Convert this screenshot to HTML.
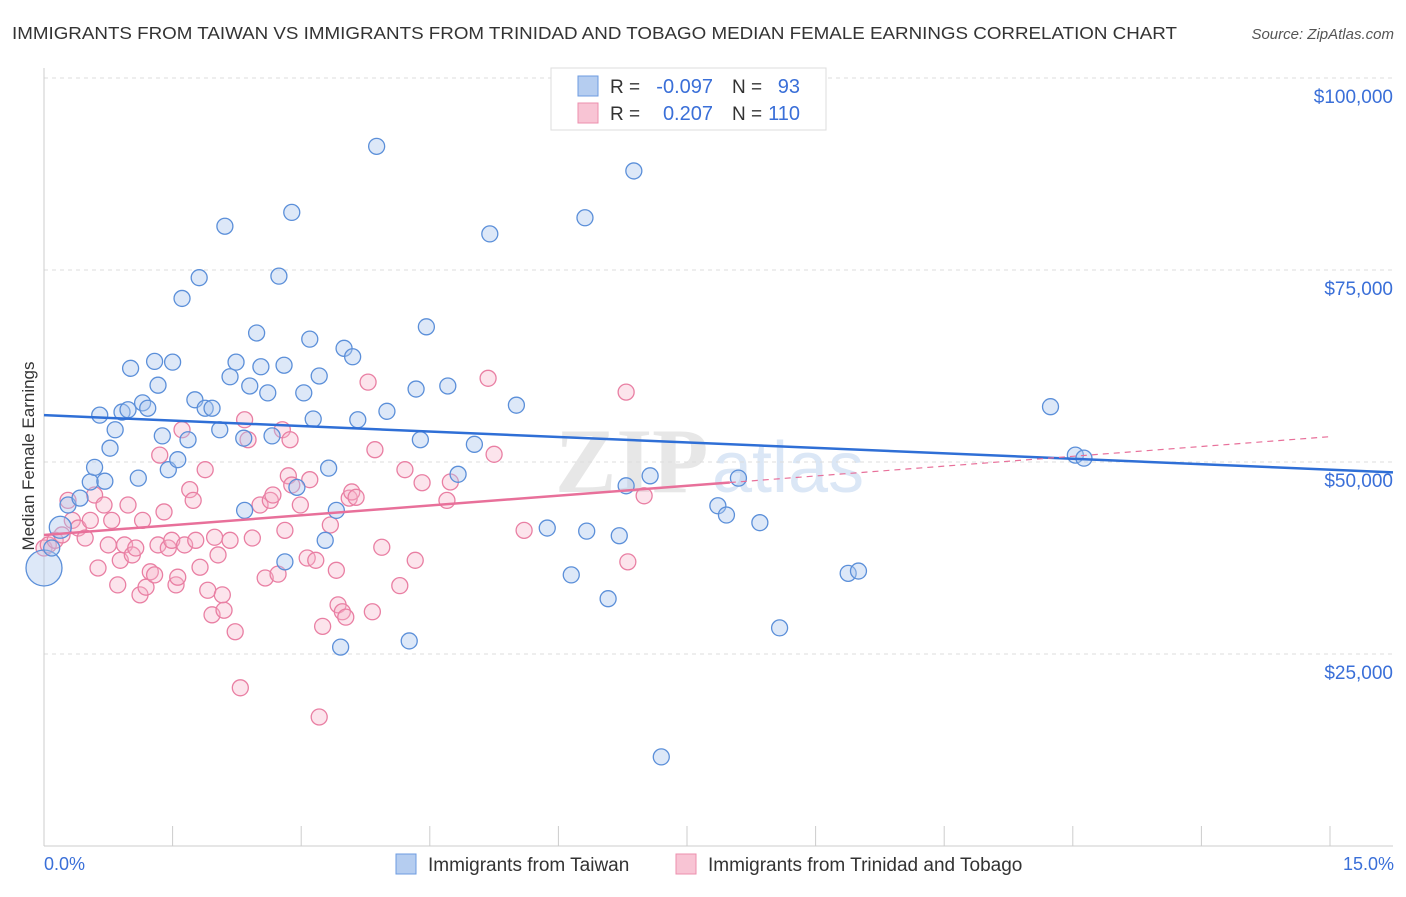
<!DOCTYPE html>
<html><head><meta charset="utf-8"><style>
body{margin:0;background:#fff;font-family:"Liberation Sans",sans-serif;}
</style></head><body>
<svg width="1406" height="892" xmlns="http://www.w3.org/2000/svg" font-family="Liberation Sans, sans-serif">
<text x="12" y="39" font-size="17.5" fill="#333" textLength="1165" lengthAdjust="spacingAndGlyphs">IMMIGRANTS FROM TAIWAN VS IMMIGRANTS FROM TRINIDAD AND TOBAGO MEDIAN FEMALE EARNINGS CORRELATION CHART</text>
<text x="1394" y="39" font-size="15" fill="#555" font-style="italic" text-anchor="end">Source: ZipAtlas.com</text>
<g opacity="0.35">
<text x="555" y="492" font-size="92" font-family="Liberation Serif, serif" fill="#bbb" font-weight="bold">ZIP</text>
<text x="712" y="492" font-size="72" fill="#9bbbe6">atlas</text>
</g>
<g id="grid"></g><g id="axes"></g><g id="pts"></g><g id="trend"></g>
<text transform="translate(34,456) rotate(-90)" font-size="17" fill="#333" text-anchor="middle">Median Female Earnings</text>
<text x="44" y="870" font-size="18" fill="#3a6fd8">0.0%</text>
<text x="1394" y="870" font-size="18" fill="#3a6fd8" text-anchor="end">15.0%</text>
<g>
<rect x="551" y="68" width="275" height="62" fill="#fff" stroke="#ddd"/>
<rect x="578" y="76" width="20" height="20" fill="#b5cdf0" stroke="#6d9be0"/>
<rect x="578" y="103" width="20" height="20" fill="#f8c4d4" stroke="#ec8fae"/>
<text x="610" y="93" font-size="19" fill="#333">R =</text>
<text x="713" y="93" font-size="20" fill="#3a6fd8" text-anchor="end">-0.097</text>
<text x="732" y="93" font-size="19" fill="#333">N =</text>
<text x="800" y="93" font-size="20" fill="#3a6fd8" text-anchor="end">93</text>
<text x="610" y="120" font-size="19" fill="#333">R =</text>
<text x="713" y="120" font-size="20" fill="#3a6fd8" text-anchor="end">0.207</text>
<text x="732" y="120" font-size="19" fill="#333">N =</text>
<text x="800" y="120" font-size="20" fill="#3a6fd8" text-anchor="end">110</text>
</g>
<g>
<rect x="396" y="854" width="20" height="20" fill="#b5cdf0" stroke="#6d9be0"/>
<text x="428" y="871" font-size="19" fill="#333">Immigrants from Taiwan</text>
<rect x="676" y="854" width="20" height="20" fill="#f8c4d4" stroke="#ec8fae"/>
<text x="708" y="871" font-size="19" fill="#333">Immigrants from Trinidad and Tobago</text>
</g>
</svg>
<script>
const yTicks=[25000,50000,75000,100000];
const yTickLabels=["$25,000","$50,000","$75,000","$100,000"];
const xTicks=[0,1.5,3,4.5,6,7.5,9,10.5,12,13.5,15];
const blueX=[0.00,0.19,0.09,0.28,0.42,0.54,0.59,0.71,0.65,0.83,0.91,0.98,0.77,1.10,1.01,1.15,1.21,1.29,1.33,1.38,1.45,1.50,1.56,1.61,1.68,1.76,1.81,1.88,1.96,2.05,2.11,2.17,2.24,2.33,2.34,2.40,2.48,2.53,2.61,2.66,2.74,2.80,2.81,2.89,2.95,3.03,3.10,3.14,3.21,3.28,3.32,3.41,3.46,3.50,3.60,3.66,3.88,4.00,4.26,4.34,4.39,4.46,4.71,4.83,5.02,5.20,5.51,5.87,6.15,6.31,6.33,6.58,6.71,6.79,6.88,7.07,7.20,7.86,7.96,8.10,8.35,8.58,9.38,9.50,11.74,12.03,12.13];
const blueY=[36200,41500,38800,44400,45300,47400,49300,47500,56100,54200,56500,56800,51800,47900,62200,57700,57000,63100,60000,53400,49000,63000,50300,71300,52900,58100,74000,57000,57000,54200,80700,61100,63000,53100,43700,59900,66800,62400,59000,53400,74200,62600,37000,82500,46700,59000,66000,55600,61200,39800,49200,43700,25900,64800,63700,55500,91100,56600,26700,59500,52900,67600,59900,48400,52300,79700,57400,41400,35300,81800,41000,32200,40400,46900,87900,48200,11600,44300,43100,47900,42100,28400,35500,35800,57200,50900,50500];
const pinkX=[0.00,0.05,0.13,0.21,0.28,0.33,0.40,0.48,0.54,0.59,0.63,0.70,0.75,0.79,0.86,0.89,0.94,0.98,1.03,1.07,1.12,1.15,1.19,1.24,1.29,1.33,1.35,1.40,1.45,1.49,1.54,1.56,1.61,1.64,1.70,1.74,1.77,1.82,1.88,1.91,1.96,1.99,2.03,2.08,2.10,2.17,2.23,2.29,2.34,2.38,2.43,2.52,2.58,2.64,2.67,2.73,2.78,2.81,2.85,2.87,2.89,2.99,3.07,3.10,3.17,3.21,3.25,3.34,3.41,3.43,3.48,3.52,3.56,3.59,3.64,3.78,3.83,3.86,3.94,4.15,4.21,4.33,4.41,4.70,4.74,5.18,5.25,5.60,6.79,6.81,7.00];
const pinkY=[38800,39200,39800,40500,45000,42400,41400,40100,42400,45700,36200,44400,39200,42400,34000,37200,39200,44400,37900,38800,32700,42400,33700,35700,35300,39200,50900,43500,38800,39800,34000,35000,54200,39200,46400,45000,39800,36300,49000,33300,30100,40200,37900,32700,30700,39800,27900,20600,55500,52900,40100,44400,34900,45000,45700,35400,54200,41100,48200,52900,47000,44400,37500,47700,37200,16800,28600,41800,35900,31400,30500,29800,45300,46100,45400,60400,30500,51600,38900,33900,49000,37200,47300,45000,47400,60900,51000,41100,59100,37000,45600];
const blueTrend=[56100,49000];
const pinkTrend=[40500,53300];
const pinkSolidEnd=8.0;

const NS="http://www.w3.org/2000/svg";
const X=p=>44+(p/15)*1286;
const Y=v=>846-v/25000*192;
function mk(tag,attrs,parent){const e=document.createElementNS(NS,tag);for(const k in attrs)e.setAttribute(k,attrs[k]);document.getElementById(parent).appendChild(e);return e;}
yTicks.forEach((t,i)=>{
 const l=mk('line',{x1:44,x2:1393,y1:Y(t),y2:Y(t),stroke:'#dcdcdc','stroke-dasharray':'4,4'},'grid');
 
 
 const tx=mk('text',{x:1393,y:Y(t)+25,'font-size':19,fill:'#3a6fd8','text-anchor':'end'},'grid');
 tx.textContent=yTickLabels[i];
 
 
});
const xa=mk('line',{x1:44,x2:1393,y1:846,y2:846,stroke:'#ccc'},'axes');


const ya=mk('line',{x1:44,x2:44,y1:68,y2:846,stroke:'#ccc'},'axes');


xTicks.forEach(t=>{
 const l=mk('line',{x1:X(t),x2:X(t),y1:826,y2:846,stroke:'#ccc'},'axes');
 
 
});
function dot(x,y,r,fill,stroke,op,name){
 const c=mk('circle',{cx:X(x),cy:Y(y),r:r,fill:fill,'fill-opacity':op,stroke:stroke,'stroke-width':1.3},'pts');
 
 
}
pinkX.forEach((x,i)=>dot(x,pinkY[i],8,'#f5b3c9','#e97fa3',0.35,'trinidad-point'));
blueX.forEach((x,i)=>dot(x,blueY[i],i===0?18:(i===1?11:8),'#a9c6ee','#5b8fd9',0.4,'taiwan-point'));
const bl=mk('line',{x1:X(0),y1:Y(blueTrend[0]),x2:1393,y2:Y(blueTrend[0]+(blueTrend[1]-blueTrend[0])*(1393-44)/1286),stroke:'#2f6fd6','stroke-width':2.5},'trend');


const pv=p=>pinkTrend[0]+(pinkTrend[1]-pinkTrend[0])*p/15;
const ps=mk('line',{x1:X(0),y1:Y(pv(0)),x2:X(pinkSolidEnd),y2:Y(pv(pinkSolidEnd)),stroke:'#e8709a','stroke-width':2.5},'trend');


const pd=mk('line',{x1:X(pinkSolidEnd),y1:Y(pv(pinkSolidEnd)),x2:X(15),y2:Y(pv(15)),stroke:'#e8709a','stroke-width':1.2,'stroke-dasharray':'6,5'},'trend');


</script>
</body></html>
